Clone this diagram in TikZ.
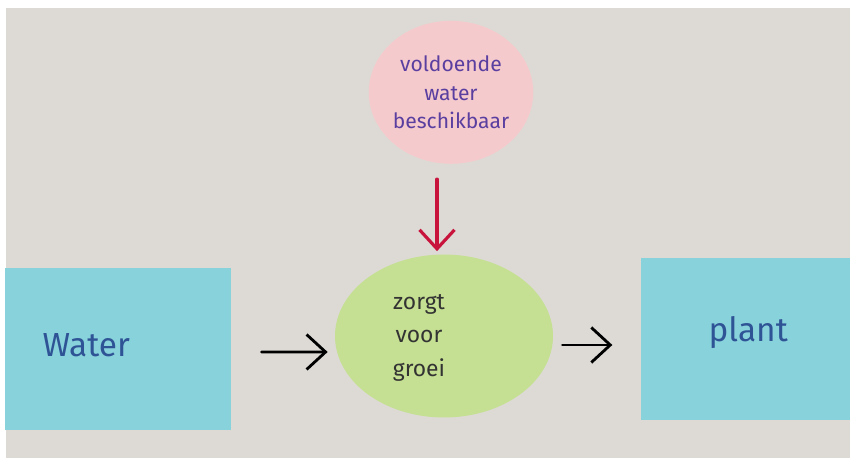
\documentclass[tikz,border=0pt]{standalone}
\usepackage{fontspec}
\setmainfont{Fira Sans}
\usetikzlibrary{positioning,arrows.meta,shapes.geometric}
\definecolor{wall}{HTML}{DDDAD5}
\definecolor{sticky}{HTML}{88D2DC}
\definecolor{leaf}{HTML}{C5E092}
\definecolor{rose}{HTML}{F5CACC}
\definecolor{ink}{HTML}{5A3FA0}
\definecolor{blueink}{HTML}{2F5496}
\definecolor{redink}{HTML}{C8143C}
\newcommand\offtext[3]{\hspace*{#1}\raisebox{#2}{\begin{tabular}{@{}c@{}}#3\end{tabular}}}

\begin{document}
\begin{tikzpicture}[>={Straight Barb[length=0.38cm,width=0.7cm]},line cap=round,
paper node/.style={draw=none,align=center,inner sep=0pt},
oval node/.style={paper node,ellipse,fill=leaf,minimum width=4.36cm,minimum height=3.26cm,font=\fontsize{13}{19}\selectfont,text=black!80},
cloud node/.style={paper node,ellipse,fill=rose,minimum width=3.24cm,minimum height=2.86cm,font=\fontsize{12}{16}\selectfont,text=ink},
card node/.style={paper node,rectangle,fill=sticky,minimum width=4.52cm,minimum height=3.24cm,font=\fontsize{19}{22}\selectfont,text=blueink}]
% wall
  \useasboundingbox (0,0) rectangle (17,-9.16);
  \fill[wall] (-0.2,0.2) rectangle (17.2,-9.4);
  \fill[white] (-0.2,0.2) rectangle (17.2,-0.16);
  \fill[white] (-0.2,0.2) rectangle (0.11,-9.4);
% nodes
  \node[oval node] (groei) at (8.88,-6.72) {\offtext{-1cm}{0.2cm}{zorgt\\voor\\groei}};
  \node[cloud node] (water) [above = 1.8cm of groei,xshift=0.14cm] {voldoende\\water\\beschikbaar};
  \node[card node] (bron) [left = 2.06cm of groei,yshift=-0.26cm] {\offtext{-1.28cm}{0.1cm}{Water}};
  \node[card node,minimum width=4.4cm] (plant) [right = 1.74cm of groei,yshift=-0.06cm] {\offtext{-0.1cm}{0.45cm}{plant}};
  %edges
  \path[->,line width=1.6pt]
    ([yshift=-0.06cm]bron.east) edge [shorten <=0.6cm,shorten >=0.14cm] ([yshift=-0.32cm]groei.west)
    ([yshift=-0.18cm]groei.east) edge [shorten <=0.18cm,shorten >=0.56cm] ([yshift=-0.12cm]plant.west);
  \draw[->,redink,line width=1.8pt,shorten <=0.3cm,shorten >=0.06cm]
    ([xshift=-0.28cm]water.south) -- ([xshift=-0.14cm]groei.north);
\end{tikzpicture}
\end{document}
